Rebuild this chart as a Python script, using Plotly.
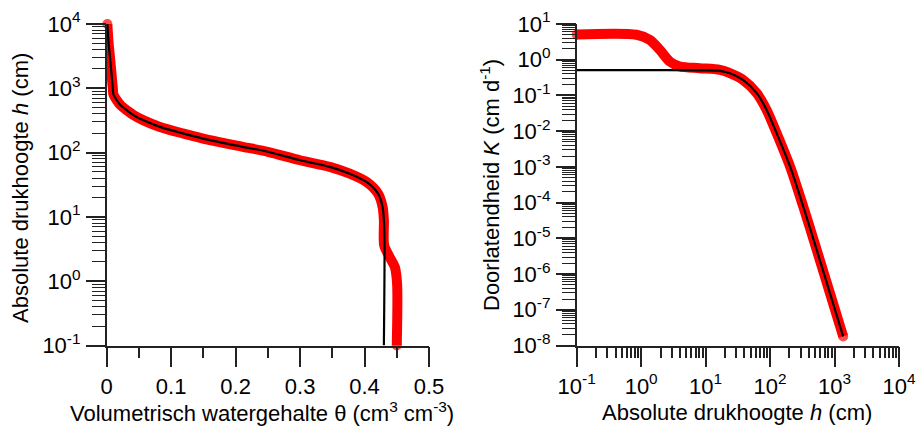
import plotly.graph_objects as go

# Water retention curve theta(h): bimodal and unimodal descriptions
theta_bimodal = [0.001, 0.003, 0.0055, 0.0095, 0.0105, 0.0155, 0.022, 0.031, 0.042,
                 0.0563, 0.0826, 0.118, 0.160, 0.211, 0.250, 0.300, 0.346, 0.377,
                 0.403, 0.421, 0.428, 0.430, 0.4305, 0.439, 0.447, 0.4505, 0.450]
h_bimodal = [10000, 5000, 2750, 1000, 800, 655, 540, 457, 380,
             320, 251, 199, 156, 123, 103, 76, 60, 47,
             35, 23, 14.3, 8.9, 3.6, 2.37, 1.66, 0.91, 0.1]

theta_unimodal = [0.001, 0.003, 0.0055, 0.0095, 0.0105, 0.0155, 0.022, 0.031, 0.042,
                  0.0563, 0.0826, 0.118, 0.160, 0.211, 0.250, 0.300, 0.346, 0.377,
                  0.403, 0.421, 0.428, 0.430, 0.431, 0.430]
h_unimodal = [10000, 5000, 2750, 1000, 800, 655, 540, 457, 380,
              320, 251, 199, 156, 123, 103, 76, 60, 47,
              35, 23, 14.3, 8.9, 4.3, 0.1]

# Hydraulic conductivity K(h)
h_k_bimodal = [0.1, 0.85, 1.37, 1.95, 2.79, 4.0, 8.1, 16.7, 23.8, 38, 62, 88,
               126, 204, 326, 526, 845, 1360]
k_bimodal = [5.1, 5.0, 3.57, 1.88, 0.885, 0.645, 0.58, 0.52, 0.42, 0.273, 0.116, 0.040,
             0.0089, 1.03e-3, 7.9e-5, 4.9e-6, 3.0e-7, 1.8e-8]

h_k_unimodal = [0.1, 1.0, 8.1, 16.7, 23.8, 38, 62, 88,
                126, 204, 326, 526, 845, 1360]
k_unimodal = [0.51, 0.51, 0.505, 0.49, 0.42, 0.273, 0.116, 0.040,
              0.0089, 1.03e-3, 7.9e-5, 4.9e-6, 3.0e-7, 1.8e-8]

theta_ticks = [0, 0.1, 0.2, 0.3, 0.4, 0.5]
theta_labels = ["0", "0.1", "0.2", "0.3", "0.4", "0.5"]
theta_minor = [0.05, 0.15, 0.25, 0.35, 0.45]
h_exps = [-1, 0, 1, 2, 3, 4]
k_exps = [-8, -7, -6, -5, -4, -3, -2, -1, 0, 1]

FONT = "Liberation Sans, Arial, sans-serif"
RED = "#ff0000"
AX = "#222222"
TXT = dict(family=FONT, size=22, color="black")


def pow_label(e):
    return "10<sup>%d</sup>" % e


def minor_log(e0, e1):
    return [m * 10 ** e for e in range(e0, e1) for m in range(2, 10)]


def end_sizes(n, s):
    return [s] + [0] * (n - 2) + [s]


fig = go.Figure()

fig.add_trace(go.Scatter(
    x=theta_bimodal, y=h_bimodal, mode="lines+markers",
    line=dict(color=RED, width=10, shape="spline", smoothing=0.8),
    marker=dict(color=RED, size=end_sizes(len(h_bimodal), 10), line=dict(width=0)),
    cliponaxis=False, xaxis="x", yaxis="y", showlegend=False))
fig.add_trace(go.Scatter(
    x=theta_unimodal, y=h_unimodal, mode="lines",
    line=dict(color="black", width=2.2, shape="spline", smoothing=0.8),
    cliponaxis=False, xaxis="x", yaxis="y", showlegend=False))

fig.add_trace(go.Scatter(
    x=h_k_bimodal, y=k_bimodal, mode="lines+markers",
    line=dict(color=RED, width=10, shape="spline", smoothing=0.8),
    marker=dict(color=RED, size=end_sizes(len(k_bimodal), 10), line=dict(width=0)),
    cliponaxis=False, xaxis="x2", yaxis="y2", showlegend=False))
fig.add_trace(go.Scatter(
    x=h_k_unimodal, y=k_unimodal, mode="lines",
    line=dict(color="black", width=2.2, shape="spline", smoothing=0.8),
    cliponaxis=False, xaxis="x2", yaxis="y2", showlegend=False))

# empty traces that carry the overlaid tick-only axes
for xa, ya in [("x3", "y"), ("x4", "y2"), ("x", "y3"), ("x", "y5"), ("x2", "y4"), ("x2", "y6")]:
    fig.add_trace(go.Scatter(x=[], y=[], xaxis=xa, yaxis=ya, showlegend=False, hoverinfo="skip"))

W, H = 916, 430
y_dom = [(H - 345.5) / H, (H - 24) / H]

common = dict(showline=True, linecolor=AX, linewidth=1.5, showgrid=False,
              zeroline=False, automargin=False, tickfont=TXT)


def tick_axis(length, width, side):
    return dict(ticks="outside", ticklen=length, tickwidth=width, tickcolor=AX,
                showticklabels=False, showline=False, showgrid=False, zeroline=False,
                automargin=False, side=side)


fig.update_layout(
    template="none",
    width=W, height=H, margin=dict(l=0, r=0, t=0, b=0),
    paper_bgcolor="white", plot_bgcolor="white",
    showlegend=False,
    # left panel
    xaxis=dict(domain=[106.7 / W, 429 / W], range=[0, 0.5],
               tickvals=theta_ticks, ticktext=theta_labels,
               ticks="outside", ticklen=20, tickwidth=1.5, tickcolor=AX,
               anchor="y", **common),
    xaxis3=dict(overlaying="x", anchor="y", range=[0, 0.5], tickvals=theta_minor,
                **tick_axis(11, 1.5, "bottom")),
    yaxis=dict(domain=y_dom, type="log", range=[-1, 4],
               tickvals=[10 ** e for e in h_exps], ticktext=[pow_label(e) for e in h_exps],
               ticks="", ticklabelstandoff=20, anchor="x", **common),
    yaxis3=dict(overlaying="y", anchor="x", type="log", range=[-1, 4],
                tickvals=[10 ** e for e in h_exps], **tick_axis(20, 1.5, "left")),
    yaxis5=dict(overlaying="y", anchor="x", type="log", range=[-1, 4],
                tickvals=minor_log(-1, 4), **tick_axis(14, 1.2, "left")),
    # right panel
    xaxis2=dict(domain=[576.7 / W, 899 / W], type="log", range=[-1, 4],
                tickvals=[10 ** e for e in h_exps], ticktext=[pow_label(e) for e in h_exps],
                ticks="outside", ticklen=20, tickwidth=1.5, tickcolor=AX,
                anchor="y2", **common),
    xaxis4=dict(overlaying="x2", anchor="y2", type="log", range=[-1, 4],
                tickvals=minor_log(-1, 4), **tick_axis(11, 1.5, "bottom")),
    yaxis2=dict(domain=y_dom, type="log", range=[-8, 1],
                tickvals=[10 ** e for e in k_exps], ticktext=[pow_label(e) for e in k_exps],
                ticks="", ticklabelstandoff=20, anchor="x2", **common),
    yaxis4=dict(overlaying="y2", anchor="x2", type="log", range=[-8, 1],
                tickvals=[10 ** e for e in k_exps], **tick_axis(20, 1.5, "left")),
    yaxis6=dict(overlaying="y2", anchor="x2", type="log", range=[-8, 1],
                tickvals=minor_log(-8, 1), **tick_axis(14, 1.2, "left")),
)

# axis titles
titles = [
    ("Volumetrisch watergehalte \u03b8 (cm<sup>3</sup> cm<sup>-3</sup>)", 262, 412, 0),
    ("Absolute drukhoogte <i>h</i> (cm)", 20, 188, -90),
    ("Absolute drukhoogte <i>h</i> (cm)", 737, 412, 0),
    ("Doorlatendheid <i>K</i> (cm d<sup>-1</sup>)", 490, 185, -90),
]
for text, px, py, ang in titles:
    fig.add_annotation(text=text, xref="paper", yref="paper", x=px / W, y=1 - py / H,
                       xanchor="center", yanchor="middle", textangle=ang,
                       showarrow=False, font=TXT)

fig.write_html("out.html")
